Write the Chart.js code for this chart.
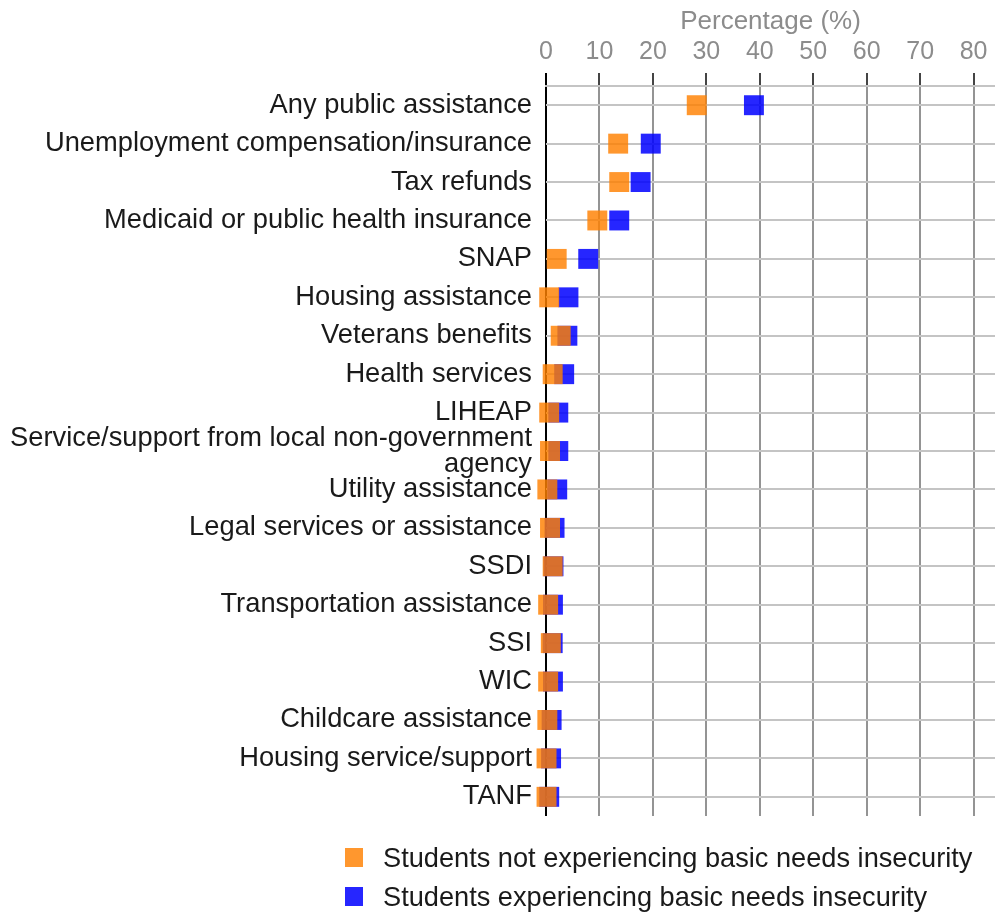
<!DOCTYPE html>
<html>
<head>
<meta charset="utf-8">
<script src="https://cdn.jsdelivr.net/npm/chart.js@4.4.1/dist/chart.umd.min.js"></script>
<style>
  html, body { margin: 0; overflow: hidden; background: #fff; font-family: "Liberation Sans", Arial, sans-serif; }
  #wrap { position: relative; width: 995px; height: 843px; }
  #legend { position: absolute; left: 345px; top: 838px; }
  .item { display: flex; align-items: center; height: 39px; font-size: 27.2px; color: #1a1a1a; }
  .sw { width: 18px; height: 19px; margin-right: 20px; }
</style>
</head>
<body>
<div id="wrap"><canvas id="chart-1"></canvas></div>
<div id="legend"></div>
<script>
const categories = [
  'Any public assistance',
  'Unemployment compensation/insurance',
  'Tax refunds',
  'Medicaid or public health insurance',
  'SNAP',
  'Housing assistance',
  'Veterans benefits',
  'Health services',
  'LIHEAP',
  ['Service/support from local non-government', 'agency'],
  'Utility assistance',
  'Legal services or assistance',
  'SSDI',
  'Transportation assistance',
  'SSI',
  'WIC',
  'Childcare assistance',
  'Housing service/support',
  'TANF'
];
const notInsecure = [28.2, 13.5, 13.7, 9.6, 2.0, 0.6, 2.75, 1.25, 0.6, 0.75, 0.25, 0.75, 1.25, 0.4, 0.9, 0.4, 0.25, 0.1, 0.1];
const insecure = [38.9, 19.6, 17.7, 13.7, 7.9, 4.2, 4.0, 3.4, 2.3, 2.3, 2.1, 1.6, 1.4, 1.3, 1.25, 1.3, 1.05, 0.95, 0.6];
const xTicks = [0, 10, 20, 30, 40, 50, 60, 70, 80];
const seriesNames = ['Students not experiencing basic needs insecurity', 'Students experiencing basic needs insecurity'];
const seriesColors = ['rgba(255, 128, 0, 0.82)', 'rgba(0, 0, 255, 0.85)'];

const ctx1 = document.getElementById("chart-1").getContext("2d");
const myChart = new Chart(ctx1, {
  type: "line",
  data: {
    labels: categories,
    datasets: [
      {
        label: seriesNames[0],
        data: notInsecure,
        backgroundColor: seriesColors[0],
        borderColor: seriesColors[0],
      },
      {
        label: seriesNames[1],
        data: insecure,
        backgroundColor: seriesColors[1],
        borderColor: seriesColors[1],
      }
    ].map(d => Object.assign(d, {
      showLine: false,
      pointStyle: 'rect',
      pointRadius: 14.1,
      pointHoverRadius: 14.1,
      pointBorderWidth: 0,
      clip: false
    }))
  },
  options: {
    responsive: true,
    maintainAspectRatio: false,
    animation: false,
    indexAxis: 'y',
    layout: { padding: 0, autoPadding: false },
    plugins: {
      legend: { display: false },
      tooltip: { enabled: false }
    },
    scales: {
      x: {
        type: 'linear',
        position: 'top',
        min: 0,
        max: 84,
        afterFit(scale) {
          scale.height = 86;
          scale.paddingLeft = 0;
          scale.paddingRight = 0;
        },
        afterBuildTicks(scale) { scale.ticks = xTicks.map(v => ({ value: v })); },
        title: {
          display: true,
          text: 'Percentage (%)',
          color: '#8c8c8c',
          font: { family: 'Liberation Sans', size: 26 },
          padding: { top: 6, bottom: 0 }
        },
        ticks: {
          autoSkip: false,
          color: '#8c8c8c',
          font: { family: 'Liberation Sans', size: 25 },
          padding: 6
        },
        grid: {
          color: c => (c.tick && c.tick.value === 0) ? '#000' : 'rgba(0,0,0,0.42)',
          lineWidth: 2,
          tickLength: 13,
          tickColor: c => (c.tick && c.tick.value === 0) ? '#000' : '#444'
        },
        border: { display: true, color: '#c4c4c4', width: 2 }
      },
      y: {
        type: 'category',
        offset: true,
        afterFit(scale) { scale.width = 546; },
        ticks: {
          autoSkip: false,
          color: '#1a1a1a',
          font: { family: 'Liberation Sans', size: 27.3, lineHeight: 0.95 },
          padding: 14
        },
        grid: {
          color: '#c4c4c4',
          lineWidth: 2,
          drawTicks: false
        },
        border: { display: false }
      }
    }
  }
});

// legend, left aligned like the original
const legend = document.getElementById('legend');
seriesNames.forEach((name, i) => {
  const row = document.createElement('div');
  row.className = 'item';
  const sw = document.createElement('span');
  sw.className = 'sw';
  sw.style.background = seriesColors[i];
  const txt = document.createElement('span');
  txt.textContent = name;
  row.appendChild(sw);
  row.appendChild(txt);
  legend.appendChild(row);
});
</script>
</body>
</html>
